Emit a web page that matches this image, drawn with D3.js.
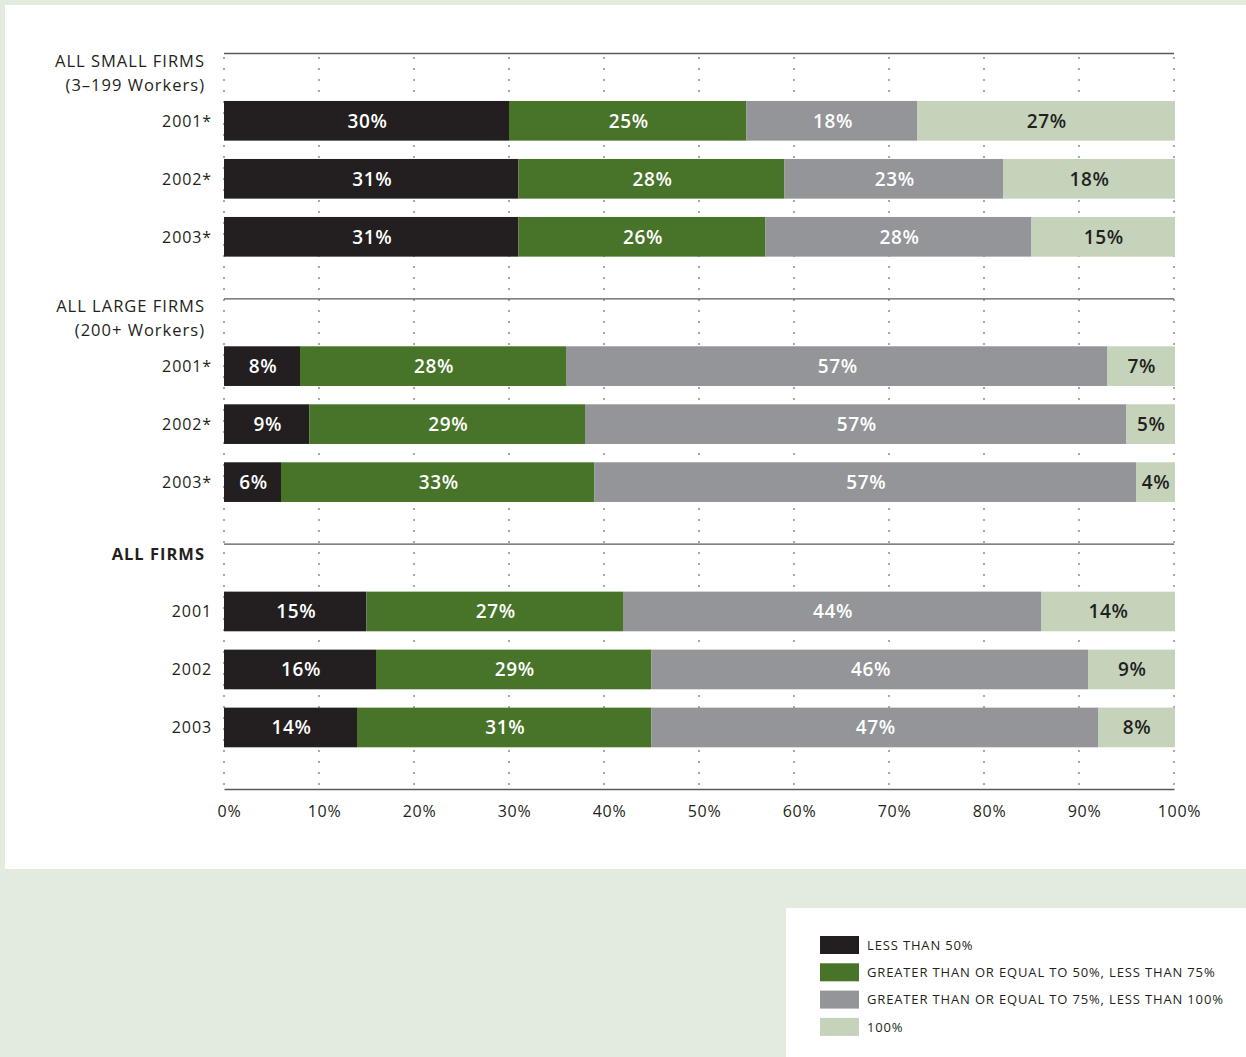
<!DOCTYPE html>
<html lang="en">
<head>
    <meta charset="UTF-8">
    <title>Share of workers by firm size</title>
    <script src="https://cdn.jsdelivr.net/npm/d3@7/dist/d3.min.js"></script>
    <style>
        html, body { margin: 0; padding: 0; background: #e3ebdf; }
        svg { display: block; font-family: "Open Sans", sans-serif; }
    </style>
</head>
<body>
<script>

    // data
    var groupNames = ["ALL SMALL FIRMS", "ALL LARGE FIRMS", "ALL FIRMS"];
    var groupSubs = ["(3\u2013199 Workers)", "(200+ Workers)", ""];
    var rowLabels = [
        ["2001*", "2002*", "2003*"],
        ["2001*", "2002*", "2003*"],
        ["2001", "2002", "2003"]
    ];
    var seriesNames = [
        "LESS THAN 50%",
        "GREATER THAN OR EQUAL TO 50%, LESS THAN 75%",
        "GREATER THAN OR EQUAL TO 75%, LESS THAN 100%",
        "100%"
    ];
    var lessThan50 = [30, 31, 31, 8, 9, 6, 15, 16, 14];
    var from50to75 = [25, 28, 26, 28, 29, 33, 27, 29, 31];
    var from75to100 = [18, 23, 28, 57, 57, 57, 44, 46, 47];
    var full100 = [27, 18, 15, 7, 5, 4, 14, 9, 8];
    var tickValues = [0, 10, 20, 30, 40, 50, 60, 70, 80, 90, 100];

    var colors = ["#231f20", "#48742a", "#939598", "#c5d3bb"];
    var labelColors = ["#ffffff", "#ffffff", "#ffffff", "#231f20"];

    var width = 1246, height = 1057;
    var svg = d3.select("body").append("svg")
        .attr("width", width)
        .attr("height", height);

    // panels
    svg.append("rect").attr("x", 5).attr("y", 5).attr("width", width - 5).attr("height", 864).attr("fill", "#fff");
    svg.append("rect").attr("x", 786).attr("y", 908).attr("width", width - 786).attr("height", height - 908).attr("fill", "#fff");

    // scales
    var x = d3.scaleLinear().domain([0, 100]).range([224, 1174]);
    var yGroup = d3.scaleBand().domain(d3.range(3)).range([53, 789]);
    var yRow = d3.scaleBand().domain(d3.range(3))
        .range([38.8, 38.8 + 3 * 58])
        .paddingInner(0.316).paddingOuter(0.158);

    // rows table built from the arrays
    var rows = [];
    lessThan50.forEach(function (d, i) {
        var g = Math.floor(i / 3), r = i % 3;
        var vals = [lessThan50[i], from50to75[i], from75to100[i], full100[i]];
        var acc = 0;
        var segs = vals.map(function (v, k) {
            var s = {k: k, v: v, x0: acc, x1: acc + v};
            acc += v;
            return s;
        });
        rows.push({g: g, r: r, label: rowLabels[g][r], y: yGroup(g) + yRow(r), segs: segs});
    });

    // dotted grid
    svg.append("g").selectAll("line")
        .data(tickValues)
        .enter().append("line")
        .attr("x1", function (d) { return x(d); })
        .attr("x2", function (d) { return x(d); })
        .attr("y1", 53)
        .attr("y2", 789)
        .attr("stroke", "#a7a9ac")
        .attr("stroke-width", 2)
        .attr("stroke-dasharray", "2 9")
        .attr("stroke-dashoffset", -4);

    // section lines
    svg.append("g").selectAll("line")
        .data(d3.range(3))
        .enter().append("line")
        .attr("x1", x(0))
        .attr("x2", x(100))
        .attr("y1", function (d) { return yGroup(d) + 0.5; })
        .attr("y2", function (d) { return yGroup(d) + 0.5; })
        .attr("stroke", "#58595b")
        .attr("stroke-width", 1.3);

    // bars
    var barRow = svg.append("g").selectAll("g")
        .data(rows)
        .enter().append("g")
        .attr("transform", function (d) { return "translate(0," + d.y + ")"; });

    barRow.selectAll("rect")
        .data(function (d) { return d.segs; })
        .enter().append("rect")
        .attr("x", function (d) { return x(d.x0); })
        .attr("width", function (d) { return x(d.x1) - x(d.x0) + (d.k === 3 ? 1 : 0); })
        .attr("height", yRow.bandwidth())
        .attr("fill", function (d) { return colors[d.k]; });

    barRow.selectAll("text")
        .data(function (d) { return d.segs; })
        .enter().append("text")
        .attr("x", function (d) { return x((d.x0 + d.x1) / 2) + 1; })
        .attr("y", yRow.bandwidth() / 2)
        .attr("dy", "0.36em")
        .attr("text-anchor", "middle")
        .attr("font-size", 19)
        .attr("font-weight", 600)
        .attr("letter-spacing", 0.6)
        .attr("fill", function (d) { return labelColors[d.k]; })
        .text(function (d) { return d.v + "%"; });

    // row labels
    svg.append("g").selectAll("text")
        .data(rows)
        .enter().append("text")
        .attr("x", 212)
        .attr("y", function (d) { return d.y + yRow.bandwidth() / 2; })
        .attr("dy", "0.36em")
        .attr("text-anchor", "end")
        .attr("font-size", 16)
        .attr("letter-spacing", 0.9)
        .attr("fill", "#231f20")
        .text(function (d) { return d.label; });

    // group headings
    var heads = svg.append("g").selectAll("g")
        .data(groupNames)
        .enter().append("g")
        .attr("transform", function (d, i) { return "translate(205," + yGroup(i) + ")"; });

    heads.append("text")
        .attr("y", function (d, i) { return i === 2 ? 16 : 14; })
        .attr("text-anchor", "end")
        .attr("font-size", 16.5)
        .attr("font-weight", function (d, i) { return i === 2 ? 700 : 400; })
        .attr("letter-spacing", 1)
        .attr("fill", "#231f20")
        .text(function (d) { return d; });

    heads.append("text")
        .attr("y", 38)
        .attr("text-anchor", "end")
        .attr("font-size", 16.5)
        .attr("letter-spacing", 1)
        .attr("fill", "#231f20")
        .text(function (d, i) { return groupSubs[i]; });

    // x axis
    var axis = svg.append("g")
        .attr("transform", "translate(0,789)")
        .call(d3.axisBottom(x).tickValues(tickValues).tickSize(0).tickPadding(17)
            .tickFormat(function (d) { return d + "%"; }));
    axis.select(".domain").attr("stroke", "#58595b").attr("stroke-width", 1.5);
    axis.selectAll("text")
        .attr("dx", 5)
        .attr("font-family", "Open Sans, sans-serif")
        .attr("font-size", 16)
        .attr("letter-spacing", 0.7)
        .attr("fill", "#231f20");

    // legend
    var legend = svg.append("g").selectAll("g")
        .data(seriesNames)
        .enter().append("g")
        .attr("transform", function (d, i) { return "translate(820," + (936 + i * 27.3) + ")"; });

    legend.append("rect")
        .attr("width", 39)
        .attr("height", 18)
        .attr("fill", function (d, i) { return colors[i]; });

    legend.append("text")
        .attr("x", 47)
        .attr("y", 9)
        .attr("dy", "0.36em")
        .attr("font-size", 13)
        .attr("letter-spacing", 0.85)
        .attr("fill", "#231f20")
        .text(function (d) { return d; });

</script>
</body>
</html>
